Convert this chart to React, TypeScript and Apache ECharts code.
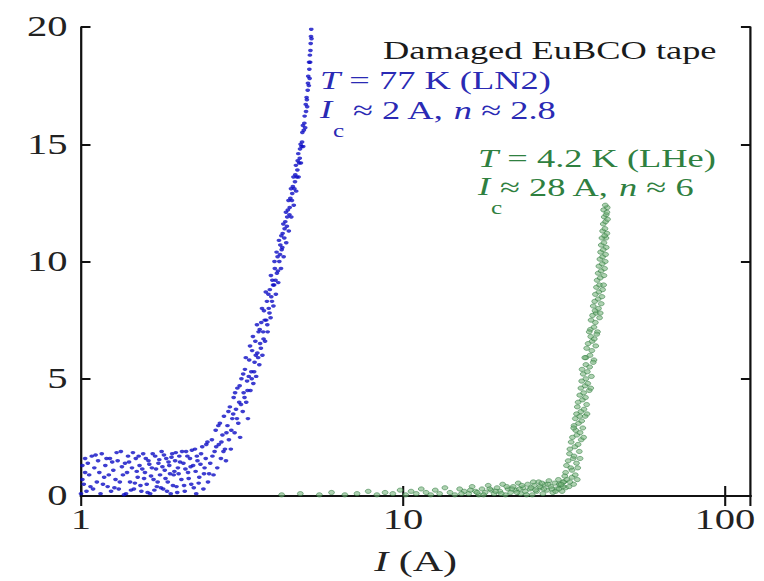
import React, { useEffect, useRef } from "react";
import * as echarts from "echarts";

// Damaged EuBCO tape, T = 77 K (LN2): [I (A), V]
const blueLN2: number[][] = [
  [1.00,0.1],[1.01,1.3],[1.02,0.5],[1.03,1.6],[1.04,0.2],[1.05,1.4],[1.06,0.9],[1.08,1.7],[1.09,0.3],[1.10,1.2],
  [1.12,0.6],[1.13,1.5],[1.15,0.1],[1.16,1.8],[1.18,0.8],[1.19,1.3],[1.21,0.4],[1.23,1.6],[1.24,0.2],[1.26,1.1],
  [1.28,0.7],[1.30,1.5],[1.31,0.3],[1.33,1.9],[1.35,0.9],[1.37,1.4],[1.38,0.1],[1.40,1.7],[1.42,0.6],[1.44,1.2],
  [1.46,0.3],[1.48,1.6],[1.50,0.8],[1.52,1.3],[1.54,0.2],[1.56,1.8],[1.58,1.0],[1.60,0.5],[1.62,1.5],[1.64,0.1],
  [1.66,1.2],[1.68,0.7],[1.70,1.7],[1.72,0.4],[1.74,1.4],[1.76,0.9],[1.78,1.9],[1.80,0.3],[1.82,1.1],[1.84,1.6],
  [1.86,0.6],[1.88,1.3],[1.90,0.1],[1.92,1.8],[1.94,0.9],[1.96,1.5],[1.98,0.4],[2.00,1.2],[2.02,1.7],[2.05,0.7],
  [2.08,1.4],[2.10,0.2],[2.12,1.9],[2.15,1.0],[2.18,1.6],[2.20,0.5],[2.23,1.3],[2.26,2.0],[2.28,0.1],[2.30,1.5],
  [2.33,0.8],[2.36,1.8],[2.40,0.3],[2.42,1.2],[2.45,2.2],[2.48,0.6],
  [1.01,0.7],[1.03,1.0],[1.07,0.4],[1.11,1.75],[1.14,1.0],[1.17,0.5],[1.20,1.6],[1.22,0.9],[1.25,1.45],[1.27,0.35],
  [1.29,1.85],[1.32,0.6],[1.34,1.25],[1.36,0.05],[1.39,1.0],[1.41,1.45],[1.43,0.25],[1.45,1.85],[1.47,0.55],[1.49,1.05],
  [1.51,1.7],[1.53,0.45],[1.55,1.15],[1.57,0.75],[1.59,1.6],[1.61,0.15],[1.63,1.35],[1.65,0.85],[1.67,1.8],[1.69,0.25],
  [1.71,1.15],[1.73,0.6],[1.75,1.55],[1.77,0.35],[1.79,1.25],[1.81,1.75],[1.83,0.75],[1.85,0.2],[1.87,1.45],[1.89,0.95],
  [1.91,1.65],[1.93,0.45],[1.95,1.05],[1.97,1.85],[1.99,0.15],[2.01,0.95],[2.03,1.45],[2.06,1.9],[2.09,0.45],[2.11,1.15],
  [2.14,1.7],[2.16,0.75],[2.19,1.25],[2.21,1.95],[2.24,0.35],[2.27,1.05],[2.29,1.7],[2.32,0.55],[2.35,1.35],[2.38,2.1],
  [2.41,0.95],[2.44,1.6],[2.47,2.3],[2.50,0.95],
  [2.52,1.4],[2.55,2.4],[2.58,0.9],[2.60,1.9],[2.62,2.8],[2.65,1.2],[2.68,2.2],[2.70,3.1],[2.72,1.6],[2.75,2.6],
  [2.78,3.4],[2.80,2.0],[2.82,1.5],[2.85,3.0],[2.88,2.4],[2.90,3.8],[2.92,2.0],[2.95,3.3],[2.98,4.2],[3.00,2.7],
  [3.03,3.7],[3.06,4.6],[3.08,3.1],[3.10,4.0],[3.12,2.5],[3.15,5.0],[3.18,3.6],[3.20,4.4],[3.23,5.4],[3.26,4.0],
  [3.28,4.9],[3.30,3.3],[3.33,5.8],[3.36,4.5],[3.38,5.3],[3.40,6.2],[3.43,4.8],[3.46,5.7],[3.48,6.6],[3.50,5.1],
  [3.53,6.1],[3.56,7.0],[3.58,5.6],[3.60,6.5],[3.63,7.4],[3.66,6.0],[3.68,7.0],[3.70,7.9],[3.73,6.6],[3.76,7.5],
  [3.78,8.3],[3.80,7.0],[3.83,8.0],[3.86,8.8],[3.88,7.6],[3.90,8.5],[3.93,9.2],[3.96,8.1],[3.98,9.0],[4.00,9.7],
  [4.03,8.6],[4.06,9.5],[4.08,10.2],[4.10,9.1],[4.13,10.0],[4.16,10.7],[4.18,9.7],[4.20,10.5],[4.23,11.2],[4.26,10.2],
  [4.28,11.0],[4.31,11.7],[4.34,10.8],[4.36,11.5],[4.39,12.2],[4.42,11.3],[4.44,12.0],[4.47,12.7],[4.50,11.9],[4.52,12.6],
  [4.55,13.2],[4.58,12.4],[4.60,13.1],[4.63,13.7],[4.66,13.0],[4.68,13.6],[4.71,14.3],[4.74,13.6],[4.76,14.2],[4.79,14.8],
  [4.82,14.2],[4.84,14.9],[4.87,15.5],[4.90,14.9],[4.92,15.6],[4.95,16.2],[4.97,15.7],[5.00,16.4],[5.02,17.0],[5.04,16.6],
  [5.06,17.3],[5.08,17.9],[5.10,17.5],[5.12,18.2],[5.14,18.8],[5.15,18.5],[5.17,19.3],[5.19,19.9],
  [2.56,1.7],[2.63,2.1],[2.67,3.0],[2.73,2.3],[2.77,1.9],[2.83,2.7],[2.87,3.6],[2.93,2.8],[2.97,3.5],[3.01,4.4],
  [3.05,3.3],[3.11,4.7],[3.14,3.9],[3.19,5.2],[3.22,4.2],[3.25,5.9],[3.29,4.5],[3.32,5.1],[3.35,6.4],[3.39,5.0],
  [3.42,6.8],[3.45,5.3],[3.49,6.0],[3.52,7.3],[3.55,5.9],[3.59,7.1],[3.62,6.3],[3.65,8.0],[3.69,6.7],[3.72,7.5],
  [3.75,8.7],[3.79,7.3],[3.82,8.6],[3.85,7.8],[3.89,9.4],[3.92,8.3],[3.95,9.0],[3.99,10.0],[4.02,9.2],[4.05,10.4],
  [4.09,9.6],[4.12,10.9],[4.15,10.3],[4.19,11.1],[4.22,10.6],[4.25,11.6],[4.29,11.4],[4.33,12.1],[4.37,11.9],[4.41,12.6],
  [4.45,12.3],[4.49,13.1],[4.53,12.9],[4.57,13.6],[4.62,13.4],[4.65,14.1],[4.70,13.9],[4.73,14.6],[4.78,14.4],[4.81,15.0],
  [4.86,15.1],[4.89,15.8],[4.94,15.9],[4.99,16.7],[5.03,16.9],[5.07,17.6],[5.11,18.5],[5.13,17.8],[5.16,19.0],[5.18,19.6],
  [5.20,19.5]
];

// Damaged EuBCO tape, T = 4.2 K (LHe): [I (A), V]
const greenLHe: number[][] = [
  [4.2,0.05],[4.8,0.1],[5.5,0.05],[6.0,0.15],[6.6,0.05],[7.2,0.1],[7.8,0.2],[8.3,0.05],[8.8,0.15],[9.3,0.1],
  [9.8,0.25],[10.2,0.05],[10.6,0.2],[11.0,0.1],[11.4,0.3],[11.8,0.15],[12.2,0.05],[12.6,0.25],[13.0,0.1],[13.5,0.35],
  [14.0,0.15],[14.5,0.05],[15.0,0.3],[15.5,0.2],[16.0,0.1],[16.4,0.4],[16.8,0.2],[17.2,0.05],[17.6,0.3],[18.0,0.15],
  [18.4,0.45],[18.8,0.25],[19.2,0.1],[19.6,0.35],[20.0,0.2],[20.4,0.5],[20.8,0.05],[21.2,0.3],[21.6,0.15],[22.0,0.4],
  [22.4,0.25],[22.8,0.55],[23.2,0.1],[23.6,0.35],[24.0,0.2],[24.4,0.5],[24.8,0.3],[25.2,0.05],[25.6,0.45],[26.0,0.2],
  [26.4,0.6],[26.8,0.35],[27.2,0.1],[27.6,0.5],[28.0,0.25],[28.4,0.65],[28.8,0.4],[29.2,0.15],[29.6,0.55],[30.0,0.3],
  [30.4,0.7],[30.8,0.45],[31.2,0.2],[31.6,0.6],[32.0,0.35],
  [15.2,0.1],[16.2,0.25],[17.0,0.15],[17.8,0.05],[18.6,0.3],[19.4,0.2],[20.2,0.1],[21.0,0.4],[21.8,0.3],[22.6,0.15],
  [23.4,0.45],[24.2,0.05],[25.0,0.35],[25.8,0.25],[26.6,0.4],[27.4,0.3],[28.2,0.5],[29.0,0.3],[29.8,0.2],[30.6,0.5],
  [31.4,0.4],[27.0,0.55],[25.4,0.6],[23.0,0.3],
  [31.5,0.6],[32.8,0.4],[33.5,0.8],[32.0,1.0],[33.2,1.2],[34.3,0.9],[32.6,1.5],[33.8,1.6],[34.6,1.4],[33.0,2.0],
  [34.2,2.1],[35.3,1.9],[33.6,2.5],[34.7,2.6],[35.8,2.4],[34.0,3.0],[35.1,3.1],[36.2,2.9],[34.6,3.5],[35.7,3.6],
  [36.8,3.4],[35.0,4.0],[36.1,4.1],[37.2,3.9],[35.7,4.6],[36.8,4.7],[37.9,4.5],[36.3,5.2],[37.4,5.3],[38.5,5.1],
  [37.0,5.9],[38.1,6.0],[39.2,5.8],[37.6,6.5],[38.7,6.6],[39.7,6.4],[38.2,7.1],[39.2,7.2],[40.2,7.0],[38.8,7.7],
  [39.8,7.8],[40.8,7.6],[39.4,8.3],[40.4,8.4],[41.3,8.2],[39.9,8.9],[40.8,9.0],[41.7,8.8],[40.4,9.5],[41.3,9.6],
  [42.1,9.4],[40.9,10.1],[41.7,10.2],[42.5,10.0],[41.3,10.7],[42.1,10.8],[42.8,10.6],[41.7,11.3],[42.4,11.4],[43.0,11.2],
  [42.2,11.9],[42.8,12.0],[43.1,12.3],
  [30.5,0.3],[31.0,0.5],[32.3,0.7],[33.9,0.5],[34.8,0.7],[31.8,0.85],[33.0,0.6],
  [32.2,1.3],[33.5,1.1],[34.9,1.2],[35.5,1.6],[32.9,1.8],[34.0,1.7],[35.0,2.2],
  [33.3,2.3],[34.4,2.8],[35.5,2.7],[36.4,2.5],[33.9,2.9],[35.9,3.2],
  [34.3,3.3],[35.4,3.4],[36.5,3.7],[37.3,3.5],[34.8,3.8],[36.9,4.2],
  [35.4,4.3],[36.4,4.4],[37.5,4.8],[38.3,4.6],[35.9,4.9],[37.0,5.0],
  [36.0,5.4],[37.0,5.6],[38.0,5.5],[39.0,5.7],[36.7,5.9],[38.6,6.2],
  [37.2,6.3],[38.3,6.8],[39.3,6.7],[40.0,6.9],[37.9,7.0],[39.6,7.4],
  [38.4,7.5],[39.5,7.9],[40.5,8.0],[41.0,7.8],[39.0,8.1],
  [39.6,8.6],[40.6,8.7],[41.5,8.5],[42.0,9.0],[40.1,9.2],
  [40.6,9.8],[41.6,9.9],[42.3,9.7],[41.0,9.3],[42.6,10.3],
  [41.1,10.4],[41.9,10.5],[42.7,11.0],[41.5,11.0],[42.3,11.1],
  [41.9,11.6],[42.6,11.7],[43.2,11.8],[42.0,12.2],[42.5,12.4],[43.0,12.1]
];

const xMin = 1;
const xMax = 120;
const yMin = 0;
const yMax = 20;
const yInterval = 5;

const SX = 1.4; // horizontal stretch of the original figure
const W = 764;
const H = 581;
const FONT = '"Liberation Serif", "Times New Roman", serif';
const BLUE_TXT = "#2a2ab4";
const GREEN_TXT = "#2f8040";

export default function App() {
  const ref = useRef<HTMLDivElement>(null);
  useEffect(() => {
    if (!ref.current) return;
    const chart = echarts.init(ref.current, undefined, { renderer: "svg" });
    const axisLine = (w: number) => ({ show: true, lineStyle: { color: "#111", width: w } });
    const t = (x: number, y: number, text: string, fill: string, size: number, italic = false, rich?: any) => ({
      type: "text",
      x: x / SX,
      y,
      silent: true,
      style: {
        text,
        fill,
        fontSize: size,
        fontFamily: FONT,
        fontStyle: italic ? "italic" : "normal",
        align: "left",
        verticalAlign: "middle",
        rich,
      },
    });
    const ital = (fill: string, size: number) => ({ i: { fontStyle: "italic", fontSize: size, fontFamily: FONT, fill, color: fill } });
    chart.setOption({
      animation: false,
      backgroundColor: "#fff",
      grid: { left: 81 / SX, right: (W - 750) / SX, top: 27, bottom: 83, containLabel: false },
      xAxis: [
        {
          type: "log",
          logBase: 10,
          min: xMin,
          max: xMax,
          position: "bottom",
          axisLine: axisLine(2),
          axisTick: { show: true, inside: true, length: 10, lineStyle: { color: "#111", width: 1.5 } },
          minorTick: { show: false },
          splitLine: { show: false },
          axisLabel: { fontSize: 29, fontFamily: FONT, color: "#222", margin: 9, showMaxLabel: false },
          name: "{i|I} (A)",
          nameLocation: "middle",
          nameGap: 50,
          nameTextStyle: {
            fontSize: 30,
            fontFamily: FONT,
            color: "#222",
            rich: { i: { fontStyle: "italic", fontSize: 30, fontFamily: FONT, color: "#222" } },
          },
        },
        {
          type: "log",
          logBase: 10,
          min: xMin,
          max: xMax,
          position: "top",
          axisLine: axisLine(2),
          axisTick: { show: true, inside: true, length: 10, lineStyle: { color: "#111", width: 1.5 } },
          axisLabel: { show: false },
          splitLine: { show: false },
        },
      ],
      yAxis: [
        {
          type: "value",
          min: yMin,
          max: yMax,
          interval: yInterval,
          position: "left",
          axisLine: axisLine(1.6),
          axisTick: { show: true, inside: true, length: 9.5 / SX, lineStyle: { color: "#111", width: 2 } },
          splitLine: { show: false },
          axisLabel: { fontSize: 29, fontFamily: FONT, color: "#222", margin: 13.5 / SX },
        },
        {
          type: "value",
          min: yMin,
          max: yMax,
          interval: yInterval,
          position: "right",
          axisLine: axisLine(1.6),
          axisTick: { show: true, inside: true, length: 9.5 / SX, lineStyle: { color: "#111", width: 2 } },
          splitLine: { show: false },
          axisLabel: { show: false },
        },
      ],
      series: [
        {
          type: "scatter",
          name: "T = 77 K (LN2)",
          xAxisIndex: 0,
          yAxisIndex: 0,
          data: blueLN2,
          symbol: "circle",
          symbolSize: 3.4,
          itemStyle: { color: "#0c0cc4" },
          z: 3,
        },
        {
          type: "scatter",
          name: "T = 4.2 K (LHe)",
          xAxisIndex: 0,
          yAxisIndex: 0,
          data: greenLHe,
          symbol: "circle",
          symbolSize: 4.2,
          itemStyle: { color: "rgba(120,180,125,0.75)", borderColor: "rgba(45,120,60,0.8)", borderWidth: 0.7 },
          z: 2,
        },
      ],
      graphic: [
        t(383, 50, "Damaged EuBCO tape", "#1a1a1a", 26),
        t(320, 80, "{i|T} = 77 K (LN2)", BLUE_TXT, 26, false, ital(BLUE_TXT, 26)),
        t(320, 109, "I", BLUE_TXT, 26, true),
        t(333, 131, "c", BLUE_TXT, 18),
        t(353, 110, "\u2248 2 A, {i|n} \u2248 2.8", BLUE_TXT, 26, false, ital(BLUE_TXT, 26)),
        t(478, 158, "{i|T} = 4.2 K (LHe)", GREEN_TXT, 26, false, ital(GREEN_TXT, 26)),
        t(478, 186, "I", GREEN_TXT, 26, true),
        t(491, 208, "c", GREEN_TXT, 18),
        t(500, 187, "\u2248 28 A, {i|n} \u2248 6", GREEN_TXT, 26, false, ital(GREEN_TXT, 26)),
      ],
    });
    return () => chart.dispose();
  }, []);
  return (
    <div style={{ position: "fixed", left: 0, top: 0, width: W, height: H, overflow: "hidden", background: "#fff" }}>
      <div
        ref={ref}
        style={{ width: W / SX, height: H, transform: `scaleX(${SX})`, transformOrigin: "0 0" }}
      />
    </div>
  );
}
